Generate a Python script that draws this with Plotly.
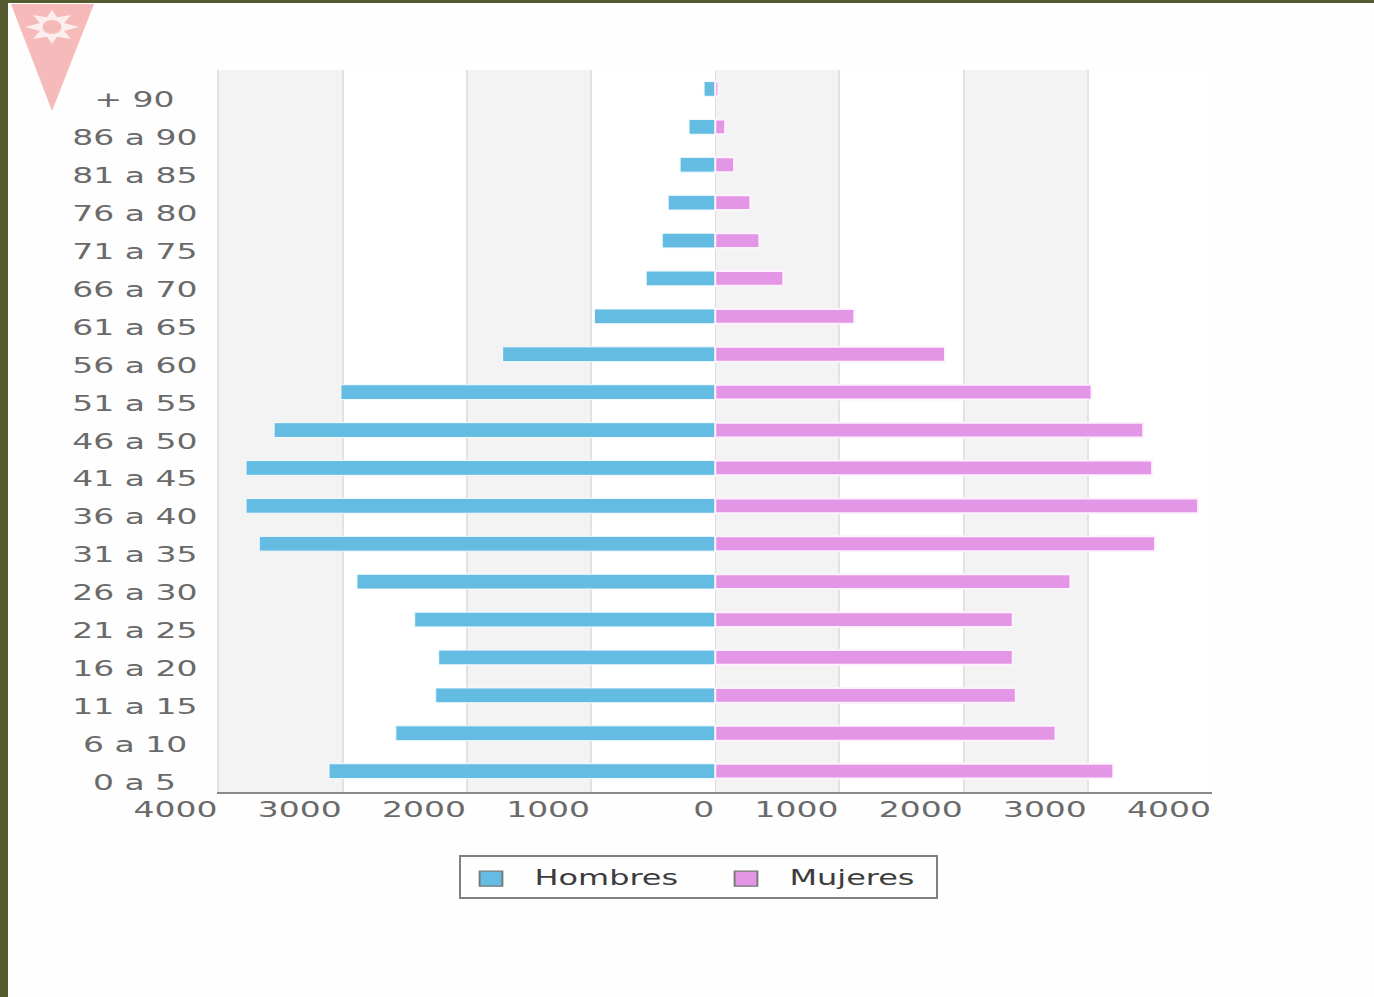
import math
import plotly.graph_objects as go

edades = ["0 a 5", "6 a 10", "11 a 15", "16 a 20", "21 a 25", "26 a 30", "31 a 35", "36 a 40",
          "41 a 45", "46 a 50", "51 a 55", "56 a 60", "61 a 65", "66 a 70", "71 a 75", "76 a 80",
          "81 a 85", "86 a 90", "+ 90"]
hombres = [3110, 2572, 2251, 2227, 2420, 2885, 3672, 3778, 3778, 3552, 3014, 1712, 973, 556, 427, 379, 283, 211, 90]
mujeres = [3205, 2740, 2420, 2396, 2396, 2860, 3542, 3888, 3518, 3446, 3030, 1850, 1120, 548, 355, 283, 152, 80, 25]
x_ticks = [-4000, -3000, -2000, -1000, 0, 1000, 2000, 3000, 4000]
x_labels = ["4000", "3000", "2000", "1000", "0", "1000", "2000", "3000", "4000"]

W, H = 1374, 997
L, R, T, B = 217, 1212, 70, 792
TEXT = "#6a6a6a"
FONT = "DejaVu Sans"


def px(v):
    return (v - L) / (R - L)


def py(v):
    return (B - v) / (B - T)


def poly(points):
    return "M" + " L".join(f"{px(a):.5f},{py(b):.5f}" for a, b in points) + " Z"


fig = go.Figure()
fig.add_bar(y=edades, x=[-v for v in hombres], orientation="h", name="Hombres", width=0.39,
            marker=dict(color="#65BCE2", line=dict(color="#f4fbff", width=1)), hoverinfo="skip")
fig.add_bar(y=edades, x=mujeres, orientation="h", name="Mujeres", width=0.39,
            marker=dict(color="#E496E6", line=dict(color="#fdf2fd", width=2)), hoverinfo="skip")

shapes = []
for a, b in [(-4000, -3000), (-2000, -1000), (0, 1000), (2000, 3000)]:
    shapes.append(dict(type="rect", xref="x", yref="paper", x0=a, x1=b, y0=0, y1=1,
                       fillcolor="#f3f3f3", line_width=0, layer="below"))
frame = "#565A2F"
shapes.append(dict(type="path", xref="paper", yref="paper", path=poly([(0, 0), (W, 0), (W, 3), (0, 3)]),
                   fillcolor=frame, line_width=0))
shapes.append(dict(type="path", xref="paper", yref="paper", path=poly([(0, 0), (8, 0), (8, H), (0, H)]),
                   fillcolor=frame, line_width=0))
pink = "#F6BABA"
shapes.append(dict(type="path", xref="paper", yref="paper", path=poly([(11, 4), (94, 4), (52, 111)]),
                   fillcolor=pink, line_width=0))
cx, cy = 52, 27
star = []
for i in range(16):
    ang = i * math.pi / 8
    rx, ry = (27, 17) if i % 2 == 0 else (13, 10.5)
    star.append((cx + rx * math.cos(ang), cy + ry * math.sin(ang)))
shapes.append(dict(type="path", xref="paper", yref="paper", path=poly(star), fillcolor="#fdeeee", line_width=0))
shapes.append(dict(type="circle", xref="paper", yref="paper", x0=px(cx - 9.5), x1=px(cx + 9.5), y0=py(cy + 7), y1=py(cy - 7),
                   fillcolor=pink, line_width=0))
annotations = [dict(text=e, xref="paper", yref="y", x=px(134.5), y=e, yshift=-11.5, showarrow=False,
                    xanchor="center", yanchor="middle", font=dict(family=FONT, size=21, color=TEXT))
               for e in edades]

fig.update_layout(
    width=W, height=H, margin=dict(l=L, r=W - R, t=T, b=H - B, autoexpand=False),
    paper_bgcolor="#fefefe", plot_bgcolor="white", barmode="overlay",
    shapes=shapes, annotations=annotations,
    font=dict(family=FONT, size=21, color=TEXT),
    legend=dict(orientation="h", x=px(459), y=py(855), xanchor="left", yanchor="top",
                bgcolor="#fefefe", bordercolor="#808080", borderwidth=1.5,
                entrywidth=210, entrywidthmode="pixels", itemclick=False, itemdoubleclick=False,
                font=dict(family=FONT, size=21, color="#3c3c3c")),
    xaxis=dict(range=[-4012, 4000], tickmode="array", tickvals=x_ticks, ticktext=x_labels,
               ticklabelposition="outside left", showgrid=True, gridcolor="#e2e2e2", gridwidth=2,
               zeroline=True, zerolinecolor="#dcdcdc", zerolinewidth=1, showline=True, linecolor="#8a8a8a",
               linewidth=2, ticks="", tickfont=dict(family=FONT, size=21, color=TEXT)),
    yaxis=dict(type="category", categoryorder="array", categoryarray=edades, range=[-0.55, 18.5],
               showticklabels=False, showgrid=False, zeroline=False, ticks="", showline=False),
)

post = """
document.documentElement.style.overflow='hidden';
document.body.style.margin='0';
var gd=document.getElementById('{plot_id}');
function stretch(){
  gd.querySelectorAll('.xtick text, .annotation-text').forEach(function(t){
    if(!t.dataset.w){t.dataset.w=t.getComputedTextLength();}
    t.setAttribute('textLength',(parseFloat(t.dataset.w)*1.57).toFixed(1));
    t.setAttribute('lengthAdjust','spacingAndGlyphs');
  });
  gd.querySelectorAll('.legendtext').forEach(function(t){
    if(!t.dataset.w){t.dataset.w=t.getComputedTextLength();}
    t.setAttribute('textLength',(parseFloat(t.dataset.w)*1.52).toFixed(1));
    t.setAttribute('lengthAdjust','spacingAndGlyphs');
    t.setAttribute('x','74');
  });
  gd.querySelectorAll('.xtick text').forEach(function(t){
    t.setAttribute('y',parseFloat(t.getAttribute('y'))-2);
  });
  gd.querySelectorAll('.legend .legendbar path, .legend .legendundefined').forEach(function(p){
    p.setAttribute('transform','translate(30.5,2) scale(1.9,1.25)');
    p.style.stroke='#777'; p.style.strokeWidth='1px';
  });
  var bg=gd.querySelector('.legend .bg');
  if(bg){bg.setAttribute('width','477');bg.setAttribute('height','42');}
  var clip=gd.querySelector('.legend clipPath rect');
  if(clip){clip.setAttribute('width','477');clip.setAttribute('height','42');}
}
stretch();
"""
fig.write_html("out.html", post_script=post, config={"displayModeBar": False})
